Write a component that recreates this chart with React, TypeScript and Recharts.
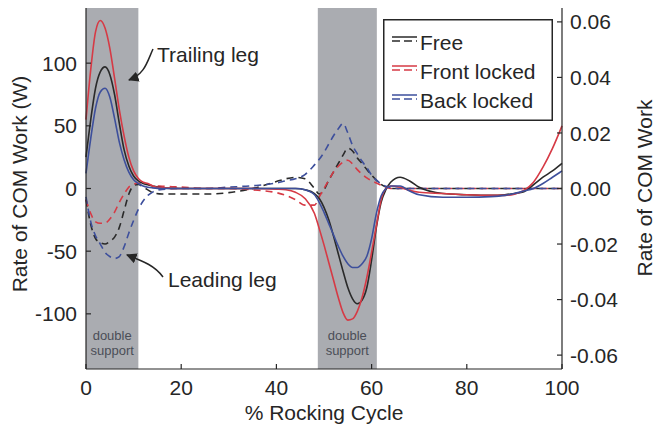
import React from "react";
import { LineChart, Line, XAxis, YAxis, ReferenceArea, Legend } from "recharts";

// % rocking cycle (shared x grid)
const pct = [0, 1, 2, 3, 4, 5, 6, 7, 8, 9, 10, 11, 12, 13, 14, 16, 20, 25, 30, 35, 40, 42, 44, 46, 48, 49, 50, 51, 52, 53, 54, 55, 56, 57, 58, 59, 60, 61, 62, 63, 64, 66, 68, 70, 75, 80, 85, 88, 90, 92, 94, 96, 98, 100];

// solid lines, left axis (W)
const freeW = [25, 55, 80, 93, 97, 91, 75, 52, 31, 18, 10, 6, 4, 3, 2, 0.5, 0, 0, 0, 0, 0, 0, 0, -1, -4, -8, -15, -25, -38, -52, -66, -79, -88, -92, -89, -79, -57, -31, -11, -1, 5, 9, 6, 1, -4, -5, -5.5, -5, -4, -2.5, 3, 9, 14, 20];
const frontW = [55, 95, 125, 134, 128, 112, 88, 63, 42, 25, 14, 8, 5, 4, 2, 0.5, 0, 0, 0, 0, -0.5, -1, -3, -8, -20, -32, -45, -59, -73, -87, -99, -105, -104, -98, -87, -71, -51, -30, -9, 0, 2, 1, -1.5, -3, -4, -5, -5.5, -5.5, -4.5, -1.5, 5, 17, 32, 50];
const backW = [12, 40, 64, 77, 80, 73, 56, 37, 23, 13, 7, 4, 2, 1, 0.5, 0, 0, 0, 0, 0, 0, 0, 0, -1, -5, -11, -19, -28, -37, -46, -54, -60, -63, -63, -60, -54, -40, -20, -6, 0, 2, 2, -2, -5, -7, -7, -6.5, -5.5, -4, -2, 0, 4, 9, 14];

// dashed lines, right axis (normalised)
const freeN = [-0.004, -0.013, -0.018, -0.0195, -0.02, -0.019, -0.0175, -0.014, -0.008, -0.002, 0.001, 0.0015, 0.0005, -0.0005, -0.0015, -0.002, -0.002, -0.002, -0.0015, 0, 0.0025, 0.0035, 0.004, 0.0035, 0, -0.002, -0.0005, 0.003, 0.006, 0.009, 0.012, 0.0145, 0.0135, 0.011, 0.009, 0.0068, 0.0048, 0.003, 0.0015, 0.0005, 0, 0, 0, 0, 0, 0, 0, 0, 0, 0, 0, 0, 0, 0];
const frontN = [-0.004, -0.009, -0.012, -0.0125, -0.0125, -0.011, -0.0085, -0.005, -0.002, 0.0005, 0.0015, 0.002, 0.002, 0.0015, 0.001, 0.0008, 0.0005, 0, 0, -0.0005, -0.0015, -0.0025, -0.004, -0.006, -0.006, -0.003, 0, 0.003, 0.006, 0.008, 0.0095, 0.0102, 0.0088, 0.0068, 0.0052, 0.0038, 0.0028, 0.002, 0.0012, 0.0005, 0, 0, 0, 0, 0, 0, 0, 0, 0, 0, 0, 0, 0, 0];
const backN = [-0.003, -0.012, -0.017, -0.02, -0.023, -0.0245, -0.0252, -0.0245, -0.021, -0.016, -0.0115, -0.0075, -0.0045, -0.0025, -0.0013, -0.0003, 0, 0, 0.0005, 0.001, 0.002, 0.0028, 0.0035, 0.005, 0.0085, 0.0105, 0.013, 0.016, 0.019, 0.0215, 0.0234, 0.02, 0.0155, 0.0125, 0.0098, 0.0075, 0.0048, 0.003, 0.0017, 0.0008, 0.0003, 0, 0, 0, 0, 0, 0, 0, 0, 0, 0, 0, 0, 0];

const seriesNames = ["Free", "Front locked", "Back locked"];
const xTicks = [0, 20, 40, 60, 80, 100];
const leftTicks = [-100, -50, 0, 50, 100];
const rightTicks = [-0.06, -0.04, -0.02, 0, 0.02, 0.04, 0.06];
const supportPhases = [
  [0, 11],
  [48.7, 61.1],
];

const rows = pct.map((x, i) => ({
  x,
  freeW: freeW[i],
  frontW: frontW[i],
  backW: backW[i],
  freeN: freeN[i],
  frontN: frontN[i],
  backN: backN[i],
}));

const FONT = "'Liberation Sans', Arial, Helvetica, sans-serif";
const INK = "#262626";
const BLACK = "#2a2a2a";
const RED = "#d63a45";
const BLUE = "#3d4f9c";
const TICK = 5;

const bottomTick = (props: any) => {
  const { x, y, payload } = props;
  const ay = y - 11;
  return (
    <g>
      <line x1={x} x2={x} y1={ay} y2={ay - TICK} stroke={INK} strokeWidth={1.2} />
      <text x={x} y={y} dy="0.71em" textAnchor="middle" fontSize={21} fill={INK} fontFamily={FONT}>
        {payload.value}
      </text>
    </g>
  );
};

const topTick = (props: any) => {
  const { x, y } = props;
  return <line x1={x} x2={x} y1={y} y2={y + TICK} stroke={INK} strokeWidth={1.2} />;
};

const leftTick = (props: any) => {
  const { x, y, payload } = props;
  const ax = x + 9;
  return (
    <g>
      <line x1={ax} x2={ax + TICK} y1={y} y2={y} stroke={INK} strokeWidth={1.2} />
      <text x={x} y={y} dy="0.36em" textAnchor="end" fontSize={21} fill={INK} fontFamily={FONT}>
        {payload.value}
      </text>
    </g>
  );
};

const rightTick = (props: any) => {
  const { x, y, payload } = props;
  const ax = x - 8;
  return (
    <g>
      <line x1={ax} x2={ax - TICK} y1={y} y2={y} stroke={INK} strokeWidth={1.2} />
      <text x={x} y={y} dy="0.36em" textAnchor="start" fontSize={21} fill={INK} fontFamily={FONT}>
        {Number(payload.value).toFixed(2)}
      </text>
    </g>
  );
};

const supportLabel = (props: any) => {
  const vb = props.viewBox || {};
  const cx = vb.x + vb.width / 2;
  const by = vb.y + vb.height;
  return (
    <g fontFamily={FONT} fontSize={13} fill="#4b4e57" textAnchor="middle">
      <text x={cx} y={by - 29}>double</text>
      <text x={cx} y={by - 14}>support</text>
    </g>
  );
};

const renderLegend = (props: any) => {
  const items = (props.payload || [])
    .filter((p: any) => p.type !== "none")
    .sort((a: any, b: any) => seriesNames.indexOf(a.value) - seriesNames.indexOf(b.value));
  return (
    <svg width={170} height={102} style={{ display: "block" }}>
      <rect x={0.75} y={0.75} width={168.5} height={100.5} fill="#fff" stroke={INK} strokeWidth={1.5} />
      {items.map((p: any, i: number) => {
        const cy = 23 + i * 29;
        return (
          <g key={p.value}>
            <line x1={9} x2={34} y1={cy - 5} y2={cy - 5} stroke={p.color} strokeWidth={1.5} />
            <line x1={9} x2={34} y1={cy - 1} y2={cy - 1} stroke={p.color} strokeWidth={1.5} strokeDasharray="8 4" />
            <text x={37} y={cy} dy="0.36em" fontSize={21} fill={INK} fontFamily={FONT}>
              {p.value}
            </text>
          </g>
        );
      })}
    </svg>
  );
};

export default function App() {
  return (
    <div style={{ position: "absolute", left: 0, top: 0, width: 659, height: 430, background: "#fff" }}>
      <LineChart width={659} height={430} data={rows} margin={{ top: 8, right: 0, bottom: 0, left: 0 }}>
        {supportPhases.map(([a, b]) => (
          <ReferenceArea
            key={a}
            x1={a}
            x2={b}
            yAxisId="left"
            fill="#aaacb1"
            fillOpacity={1}
            stroke="none"
            label={supportLabel}
          />
        ))}
        <XAxis
          dataKey="x"
          type="number"
          domain={[0, 100]}
          ticks={xTicks}
          interval={0}
          height={61}
          tickSize={0}
          tickMargin={11}
          tick={bottomTick}
          axisLine={{ stroke: INK, strokeWidth: 1.2 }}
        />
        <XAxis
          xAxisId="top"
          orientation="top"
          dataKey="x"
          type="number"
          domain={[0, 100]}
          ticks={xTicks}
          interval={0}
          height={0}
          tickSize={0}
          tickMargin={0}
          tick={topTick}
          axisLine={{ stroke: INK, strokeWidth: 1.2 }}
        />
        <YAxis
          yAxisId="left"
          type="number"
          domain={[-144, 144]}
          ticks={leftTicks}
          interval={0}
          width={86}
          tickSize={0}
          tickMargin={9}
          tick={leftTick}
          axisLine={{ stroke: INK, strokeWidth: 1.2 }}
        />
        <YAxis
          yAxisId="right"
          orientation="right"
          type="number"
          domain={[-0.065, 0.065]}
          ticks={rightTicks}
          interval={0}
          width={97}
          tickSize={0}
          tickMargin={8}
          tick={rightTick}
          axisLine={{ stroke: INK, strokeWidth: 1.2 }}
        />
        <Legend
          layout="vertical"
          align="center"
          verticalAlign="middle"
          wrapperStyle={{ left: 383, top: 19, width: 170, height: 102 }}
          content={renderLegend}
        />
        <Line yAxisId="right" dataKey="freeN" type="monotone" stroke={BLACK} strokeWidth={1.6} strokeDasharray="7 5" dot={false} activeDot={false} legendType="none" isAnimationActive={false} />
        <Line yAxisId="right" dataKey="frontN" type="monotone" stroke={RED} strokeWidth={1.6} strokeDasharray="7 5" dot={false} activeDot={false} legendType="none" isAnimationActive={false} />
        <Line yAxisId="right" dataKey="backN" type="monotone" stroke={BLUE} strokeWidth={1.6} strokeDasharray="7 5" dot={false} activeDot={false} legendType="none" isAnimationActive={false} />
        <Line yAxisId="left" dataKey="freeW" name={seriesNames[0]} type="monotone" stroke={BLACK} strokeWidth={1.6} dot={false} activeDot={false} isAnimationActive={false} />
        <Line yAxisId="left" dataKey="frontW" name={seriesNames[1]} type="monotone" stroke={RED} strokeWidth={1.6} dot={false} activeDot={false} isAnimationActive={false} />
        <Line yAxisId="left" dataKey="backW" name={seriesNames[2]} type="monotone" stroke={BLUE} strokeWidth={1.6} dot={false} activeDot={false} isAnimationActive={false} />
      </LineChart>
      <svg
        width={659}
        height={430}
        style={{ position: "absolute", left: 0, top: 0, pointerEvents: "none" }}
        fontFamily={FONT}
        fill={INK}
      >
        <defs>
          <marker id="arr" viewBox="0 0 10 10" refX="9" refY="5" markerWidth="7" markerHeight="7" orient="auto">
            <path d="M0,0 L10,5 L0,10 z" fill={INK} />
          </marker>
        </defs>
        <text x={157} y={62} fontSize={21}>Trailing leg</text>
        <path d="M153,49 C147,62 145,74 129,80" fill="none" stroke={INK} strokeWidth={1.5} markerEnd="url(#arr)" />
        <text x={168} y={287} fontSize={21}>Leading leg</text>
        <path d="M163,277 C155,266 145,262 127,255" fill="none" stroke={INK} strokeWidth={1.5} markerEnd="url(#arr)" />
        <text x={20} y={184} dy="0.35em" fontSize={21} textAnchor="middle" transform="rotate(-90 20 184)">
          Rate of COM Work (W)
        </text>
        <text x={645} y={188} dy="0.35em" fontSize={21} textAnchor="middle" transform="rotate(-90 645 188)">
          Rate of COM Work
        </text>
        <text x={324} y={420} fontSize={21} textAnchor="middle">
          % Rocking Cycle
        </text>
      </svg>
    </div>
  );
}
